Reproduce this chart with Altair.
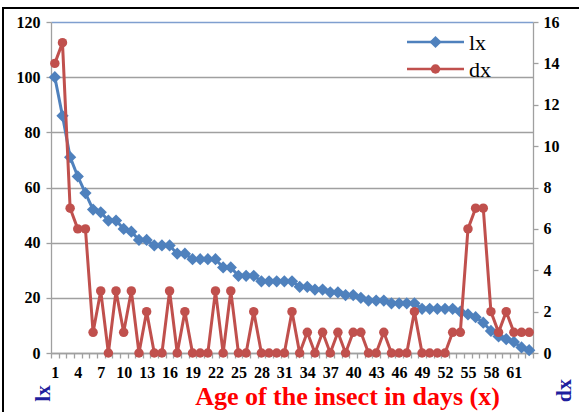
import altair as alt
import pandas as pd

# Life-table series: age in days, survivors (lx) and deaths (dx)
ages = list(range(1, 64))
lx = [100, 86, 71, 64, 58, 52, 51, 48, 48, 45,
      44, 41, 41, 39, 39, 39, 36, 36, 34, 34,
      34, 34, 31, 31, 28, 28, 28, 26, 26, 26,
      26, 26, 24, 24, 23, 23, 22, 22, 21, 21,
      20, 19, 19, 19, 18, 18, 18, 18, 16, 16,
      16, 16, 16, 15, 14, 13, 11, 8, 6, 5,
      4, 2, 1]
dx = [14, 15, 7, 6, 6, 1, 3, 0, 3, 1,
      3, 0, 2, 0, 0, 3, 0, 2, 0, 0,
      0, 3, 0, 3, 0, 0, 2, 0, 0, 0,
      0, 2, 0, 1, 0, 1, 0, 1, 0, 1,
      1, 0, 0, 1, 0, 0, 0, 2, 0, 0,
      0, 0, 1, 1, 6, 7, 7, 2, 1, 2,
      1, 1, 1]
lx_ticks = [0, 20, 40, 60, 80, 100, 120]
dx_ticks = [0, 2, 4, 6, 8, 10, 12, 14, 16]

df = pd.DataFrame({"age": ages, "lx": lx, "dx": dx})

W, H = 482, 331
BLUE = "#4f81bd"
RED = "#c0504d"
SERIF = "Liberation Serif"
GRID = "#a0a0a0"

# category boundaries carry the tick marks; labels are shifted to category centres
boundaries = [a - 0.5 for a in ages] + [ages[-1] + 0.5]
half_cat = W / len(ages) / 2

x_axis = alt.Axis(
    values=boundaries,
    labelExpr="(datum.value + 0.5) % 3 == 1 && datum.value < 63 ? '' + (datum.value + 0.5) : ''",
    labelOffset=half_cat,
    labelOverlap=False,
    labelFlush=False,
    labelFont=SERIF, labelFontWeight="bold", labelFontSize=16, labelColor="black",
    labelPadding=6,
    tickSize=5, tickColor=GRID, tickWidth=1.3, domainColor=GRID, domainWidth=1.3,
    grid=False,
    title="Age of the insect in days  (x)",
    titleFont=SERIF, titleFontWeight="bold", titleFontSize=26, titleColor="#ff0000",
    titleX=296, titleY=43, titleAlign="center", titleBaseline="middle",
)
x_scale = alt.Scale(domain=[boundaries[0], boundaries[-1]], nice=False, zero=False)

lx_layer = alt.Chart(df).mark_line(
    color=BLUE, strokeWidth=3,
    point=alt.OverlayMarkDef(shape="diamond", size=150, filled=True, color=BLUE, opacity=1),
).encode(
    x=alt.X("age:Q", scale=x_scale, axis=x_axis),
    y=alt.Y(
        "lx:Q",
        scale=alt.Scale(domain=[0, 120], nice=False),
        axis=alt.Axis(
            orient="left", values=lx_ticks,
            grid=True,
            gridColor={"condition": {"test": "datum.value === 120", "value": "#7f9fcf"}, "value": GRID},
            gridWidth=1.4,
            labelFont=SERIF, labelFontWeight="bold", labelFontSize=16, labelColor="black",
            labelPadding=6, tickSize=5, tickColor=GRID, tickWidth=1.3,
            domainColor=GRID, domainWidth=1.3,
            title="lx", titleFont=SERIF, titleFontWeight="bold", titleFontSize=21,
            titleColor="#1f1f9e", titleAngle=270, titleX=-8, titleY=371,
            titleAlign="center", titleBaseline="middle",
        ),
    ),
)

dx_layer = alt.Chart(df).mark_line(
    color=RED, strokeWidth=3,
    point=alt.OverlayMarkDef(shape="circle", size=90, filled=True, color=RED, opacity=1),
).encode(
    x=alt.X("age:Q", scale=x_scale, axis=x_axis),
    y=alt.Y(
        "dx:Q",
        scale=alt.Scale(domain=[0, 16], nice=False),
        axis=alt.Axis(
            orient="right", values=dx_ticks, grid=False,
            labelFont=SERIF, labelFontWeight="bold", labelFontSize=16, labelColor="black",
            labelPadding=5, tickSize=5, tickColor=GRID, tickWidth=1.3,
            domainColor=GRID, domainWidth=1.3,
            title="dx", titleFont=SERIF, titleFontWeight="bold", titleFontSize=22,
            titleColor="#1f1f9e", titleAngle=270, titleX=30, titleY=368,
            titleAlign="center", titleBaseline="middle",
        ),
    ),
)

# legend: line sample with marker and series name
one = pd.DataFrame({"k": [0]})
legend_layers = []
for name, color, shape, size, ly in [("lx", BLUE, "diamond", 150, 20), ("dx", RED, "circle", 90, 47)]:
    legend_layers.append(
        alt.Chart(one).mark_rule(color=color, strokeWidth=2.5).encode(
            x=alt.value(356), x2=alt.value(413), y=alt.value(ly)
        )
    )
    legend_layers.append(
        alt.Chart(one).mark_point(shape=shape, size=size, filled=True, color=color, opacity=1).encode(
            x=alt.value(384.5), y=alt.value(ly)
        )
    )
    legend_layers.append(
        alt.Chart(one).mark_text(
            text=name, font=SERIF, fontSize=22, color="black", align="left", baseline="middle"
        ).encode(x=alt.value(418), y=alt.value(ly + 1))
    )

# outer frame: its right and bottom edges run past the canvas
frame = alt.Chart(one).mark_rect(fill=None, stroke="black", strokeWidth=2).encode(
    x=alt.value(-48), x2=alt.value(540), y=alt.value(-14), y2=alt.value(400)
)

chart = alt.layer(lx_layer, dx_layer, *legend_layers, frame).resolve_scale(
    y="independent"
).properties(
    width=W, height=H,
    autosize=alt.AutoSizeParams(type="none"),
    padding={"left": 51, "top": 22, "right": 579 - 51 - W, "bottom": 412 - 22 - H},
    background="white",
).configure_view(stroke=None)

chart.save("out.html", embed_options={"renderer": "svg", "actions": False})
